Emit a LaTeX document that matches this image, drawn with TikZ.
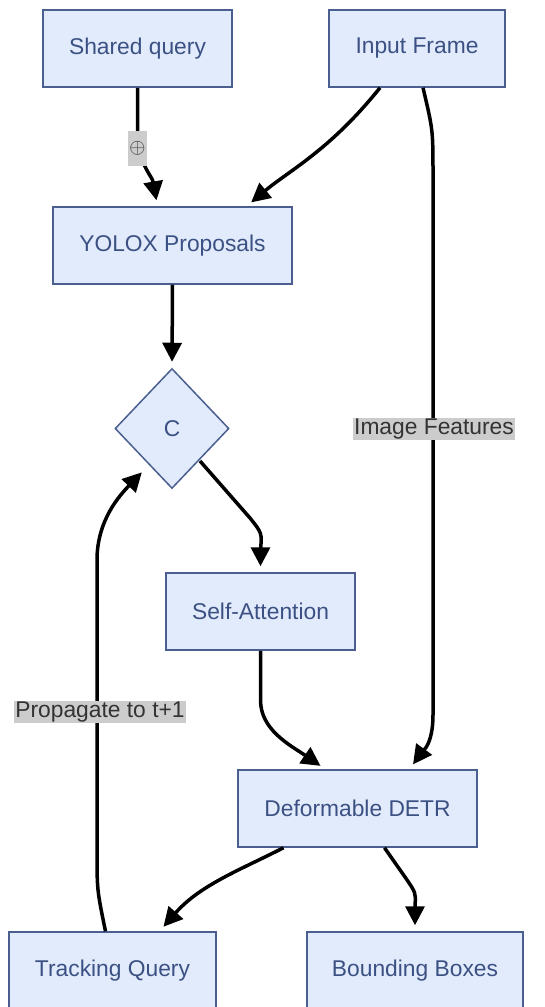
\documentclass[tikz,border=0pt]{standalone}
\usepackage{fontspec}
\setmainfont{Liberation Sans}
\usetikzlibrary{shapes.geometric}
\usetikzlibrary{arrows.meta, positioning}
\definecolor{boxfill}{HTML}{E2EBFC}
\definecolor{boxline}{HTML}{4A5F8F}
\definecolor{boxtext}{HTML}{3C5183}
\definecolor{lblfill}{HTML}{CCCCCC}
\definecolor{lbltext}{HTML}{333333}

\begin{document}
\begin{tikzpicture}[x=1pt, y=-1pt,
    every node/.style={font=\fontsize{22.8}{27}\selectfont},
    proc/.style={draw=boxline, fill=boxfill, text=boxtext, line width=1.5pt,
        minimum height=77pt, inner sep=0pt},
    cond/.style={diamond, draw=boxline, fill=boxfill, text=boxtext, line width=1.5pt,
        minimum width=114pt, minimum height=120pt, inner sep=0pt},
    lbl/.style={fill=lblfill, text=lbltext, inner sep=1pt},
    flow/.style={line width=3.5pt, -{Triangle[length=19pt,width=19pt]}, shorten >=6pt}]
    \useasboundingbox (0,0) rectangle (545,1007);

    \node[proc, minimum width=189pt] (sq) at (137.5,48.5) {Shared query};
    \node[proc, minimum width=176pt] (inframe) at (417,48.5) {Input Frame};
    \node[proc, minimum width=239pt] (yolox) at (172.5,245.5) {YOLOX Proposals};
    \node[cond] (cat) at (172,428.5) {C};
    \node[proc, minimum width=189pt] (selfatt) at (260.5,611.5) {Self-Attention};
    \node[proc, minimum width=239pt] (detr) at (357.5,808.5) {Deformable DETR};
    \node[proc, minimum width=207pt] (trackq) at (112.5,970.5) {Tracking Query};
    \node[proc, minimum width=216pt] (bbox) at (415,970.5) {Bounding Boxes};

    \draw[flow] (sq.south) -- (137.5,128) .. controls (137.5,165) and (152,175)
        .. ([xshift=-15pt]yolox.north);
    \node[lbl, minimum height=35pt] (oplus) at (137.5,148) {$\oplus$};
    \draw[flow] ([xshift=-37pt]inframe.south) .. controls (330,150) and (290,170)
        .. ([xshift=74pt]yolox.north);
    \draw[flow] ([xshift=6pt]inframe.south) .. controls (433,130) .. (433,175)
        -- (433,715) .. controls (433,745) and (422,752) .. ([xshift=52pt]detr.north);
    \node[lbl] (imgfeat) at (434,429) {Image Features};
    \draw[flow] (yolox.south) -- (cat.north);
    \draw[flow] (200,461) -- (250,518) .. controls (262,533) .. (260.5,550)
        -- (selfatt.north);
    \draw[flow] (selfatt.south) -- (260.5,700) .. controls (260.5,730) and (290,745)
        .. ([xshift=-32pt]detr.north);
    \draw[flow] ([xshift=-74pt]detr.south) .. controls (240,870) and (200,885)
        .. ([xshift=47pt]trackq.north);
    \draw[flow] ([xshift=27pt]detr.south) -- (405,877) .. controls (416,893) .. (415,905)
        -- (bbox.north);
    \draw[flow] ([xshift=-7pt]trackq.north) .. controls (97,890) .. (97,850)
        -- (97,560) .. controls (97,520) and (120,495) .. (146,468);
    \node[lbl] (propag) at (100,712) {Propagate to t+1};

\end{tikzpicture}
\end{document}
